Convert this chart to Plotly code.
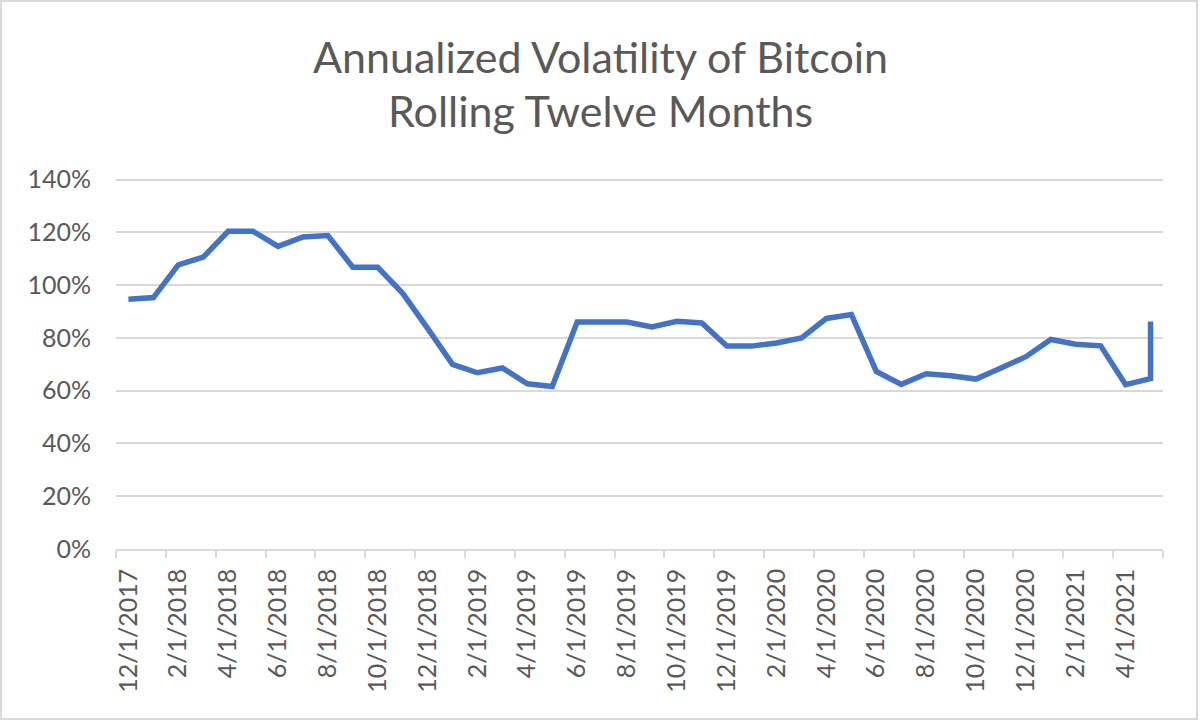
import plotly.graph_objects as go

months = ["12/1/2017", "1/1/2018", "2/1/2018", "3/1/2018", "4/1/2018", "5/1/2018",
          "6/1/2018", "7/1/2018", "8/1/2018", "9/1/2018", "10/1/2018", "11/1/2018",
          "12/1/2018", "1/1/2019", "2/1/2019", "3/1/2019", "4/1/2019", "5/1/2019",
          "6/1/2019", "7/1/2019", "8/1/2019", "9/1/2019", "10/1/2019", "11/1/2019",
          "12/1/2019", "1/1/2020", "2/1/2020", "3/1/2020", "4/1/2020", "5/1/2020",
          "6/1/2020", "7/1/2020", "8/1/2020", "9/1/2020", "10/1/2020", "11/1/2020",
          "12/1/2020", "1/1/2021", "2/1/2021", "3/1/2021", "4/1/2021", "5/1/2021"]

# observation dates (the last month holds two observations)
obs_dates = months + ["5/1/2021"]

volatility = [0.947, 0.953, 1.077, 1.106, 1.204, 1.204, 1.147, 1.183, 1.188, 1.068,
              1.068, 0.969, 0.836, 0.700, 0.668, 0.686, 0.626, 0.616, 0.860, 0.860,
              0.860, 0.842, 0.863, 0.857, 0.769, 0.769, 0.781, 0.800, 0.874, 0.889,
              0.673, 0.624, 0.664, 0.657, 0.644, 0.686, 0.729, 0.794, 0.776, 0.770,
              0.623, 0.646, 0.862]

title_line1 = "Annualized Volatility of Bitcoin"
title_line2 = "Rolling Twelve Months"

W, H = 1200, 722
ML, MR, MT, MB = 116, 37, 177, 173
PW, PH = W - ML - MR, H - MT - MB

GRID = "#d9d9d9"
TXT = "#595959"
FONT = "Lato"

n = len(months)

fig = go.Figure()
fig.add_trace(go.Scatter(
    x=obs_dates, y=volatility, mode="lines",
    line=dict(color="#4472C4", width=5.5),
    showlegend=False, hoverinfo="x+y",
))

cx = 0.5 + (W / 2 - ML - PW / 2) / PW

fig.update_layout(
    width=W, height=H,
    margin=dict(l=ML, r=MR, t=MT, b=MB),
    paper_bgcolor="white", plot_bgcolor="white",
    font=dict(family=FONT, color=TXT),
    xaxis=dict(
        type="category", categoryorder="array", categoryarray=months,
        range=[-0.5, n - 0.5],
        tickmode="linear", tick0=0, dtick=2,
        tickson="boundaries", ticks="outside", ticklen=7, tickwidth=1.5, tickcolor=GRID,
        tickangle=-90, ticklabelstandoff=8,
        tickfont=dict(family=FONT, size=25, color=TXT),
        showline=True, linecolor=GRID, linewidth=1.5,
        showgrid=False, zeroline=False,
    ),
    yaxis=dict(
        range=[0, 1.41], tickmode="array",
        tickvals=[0, 0.2, 0.4, 0.6, 0.8, 1.0, 1.2, 1.4], tickformat=".0%",
        tickfont=dict(family=FONT, size=25, color=TXT),
        ticks="", ticklabelstandoff=24,
        showgrid=True, gridcolor=GRID, gridwidth=1.5,
        zeroline=False, showline=False,
    ),
    annotations=[
        dict(text=title_line1, xref="paper", yref="paper", x=cx,
             y=(H - MB - 56) / PH, xanchor="center", yanchor="middle", showarrow=False,
             font=dict(family=FONT, size=43, color=TXT)),
        dict(text=title_line2, xref="paper", yref="paper", x=cx,
             y=(H - MB - 111) / PH, xanchor="center", yanchor="middle", showarrow=False,
             font=dict(family=FONT, size=43, color=TXT)),
    ],
    shapes=[
        dict(type="rect", xref="paper", yref="paper",
             x0=(1 - ML) / PW, x1=(W - 3 - ML) / PW,
             y0=(H - MB - (H - 3)) / PH, y1=(H - MB - 1) / PH,
             line=dict(color=GRID, width=2), fillcolor="rgba(0,0,0,0)", layer="below"),
    ],
)

fig.write_html("out.html", config={"displayModeBar": False},
               post_script="document.body.style.margin='0px';")
